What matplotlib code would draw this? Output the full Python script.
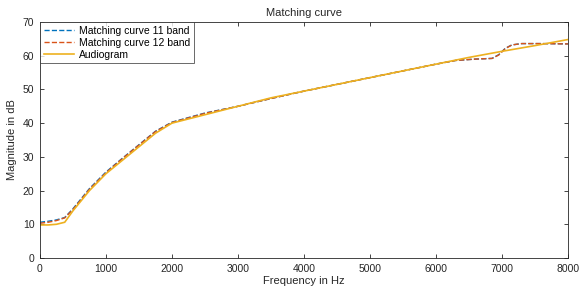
import matplotlib.pyplot as plt

# Audiogram (Hz, dB)
freq_audio = [0, 125, 250, 375, 500, 750, 1000, 1250, 1500, 1750, 2000, 2500,
              3000, 3500, 4000, 4500, 5000, 5500, 6000, 6500, 7000, 7500, 8000]
audiogram = [9.8, 9.8, 10.0, 10.6, 14.0, 20.0, 25.0, 29.0, 33.0, 37.0, 40.0, 42.5,
             45.0, 47.5, 49.5, 51.5, 53.5, 55.5, 57.5, 59.5, 61.3, 63.0, 64.8]

# Matching curves
freq_match = [0, 125, 250, 375, 500, 750, 1000, 1250, 1500, 1750, 2000, 2500,
              3000, 3500, 4000, 4500, 5000, 5500, 6000, 6300, 6600, 6850, 6950,
              7050, 7150, 7300, 7600, 8000]
match_11 = [10.6, 10.9, 11.3, 12.0, 14.6, 20.6, 25.5, 29.6, 33.6, 37.6, 40.3, 43.0,
            45.0, 47.3, 49.5, 51.5, 53.5, 55.5, 57.5, 58.6, 59.0, 59.2, 60.3,
            62.2, 63.2, 63.6, 63.6, 63.5]
match_12 = [10.3, 10.6, 11.1, 11.9, 14.4, 20.4, 25.3, 29.5, 33.5, 37.5, 40.2, 42.9,
            45.0, 47.3, 49.5, 51.5, 53.5, 55.5, 57.5, 58.6, 59.0, 59.2, 60.2,
            62.1, 63.2, 63.6, 63.6, 63.5]

plt.rcParams['font.family'] = ['Liberation Sans', 'DejaVu Sans']

fig = plt.figure(figsize=(5.81, 2.93), dpi=100)
ax = fig.add_axes([0.0688, 0.1195, 0.9088, 0.8054])

ax.plot(freq_match, match_11, '--', color='#0072BD', lw=1.0, label='Matching curve 11 band')
ax.plot(freq_match, match_12, '--', color='#D95319', lw=1.0, label='Matching curve 12 band')
ax.plot(freq_audio, audiogram, '-', color='#EDB120', lw=1.2, label='Audiogram')

ax.set_xlim(0, 8000)
ax.set_ylim(0, 70)
ax.set_xticks(range(0, 8001, 1000))
ax.set_yticks(range(0, 71, 10))
ax.tick_params(direction='in', top=True, right=True, length=3, width=0.6,
               colors='#262626', labelsize=7.5, pad=4)
for s in ax.spines.values():
    s.set_color('#262626')
    s.set_linewidth(0.6)

ax.set_title('Matching curve', fontsize=8, color='#262626', pad=4)
ax.set_xlabel('Frequency in Hz', fontsize=8, color='#262626', labelpad=2)
ax.set_ylabel('Magnitude in dB', fontsize=8, color='#262626', labelpad=4)

leg = ax.legend(loc='upper left', fontsize=7.5, frameon=True, fancybox=False,
                borderpad=0.35, labelspacing=0.2, handlelength=2.9,
                handletextpad=0.5, borderaxespad=0)
leg.get_frame().set_edgecolor('#262626')
leg.get_frame().set_linewidth(0.6)

fig.savefig('out.png', dpi=100)
